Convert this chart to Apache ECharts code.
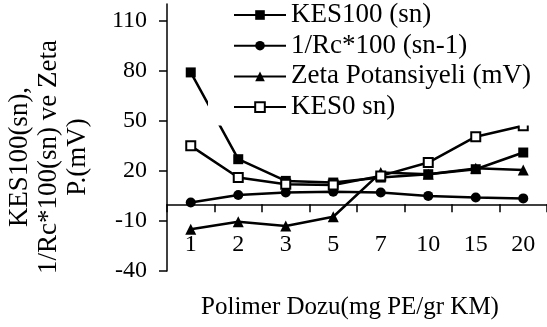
<!DOCTYPE html>
<html>
<head>
<meta charset="utf-8">
<script src="https://cdn.jsdelivr.net/npm/echarts@6/dist/echarts.min.js"></script>
<style>
html,body{margin:0;padding:0;background:#fff;}
#chart{width:547px;height:327px;}
</style>
</head>
<body>
<div id="chart"></div>
<script>
const categories = ['1', '2', '3', '5', '7', '10', '15', '20'];
const kes100 = [79, 27, 14, 13, 16, 18, 21, 31];
const rc100 = [1, 5.5, 7, 7.5, 7, 5, 4, 3.5];
const zeta = [-15, -10.5, -13, -7.5, 19, 18, 21.5, 20.5];
const kes0 = [35, 16, 12, 11.5, 17, 25, 40.5, 47];
const yTicks = [-40, -10, 20, 50, 80, 110];
const seriesNames = ['KES100 (sn)', '1/Rc*100 (sn-1)', 'Zeta Potansiyeli (mV)', 'KES0 sn)'];
const xTitle = 'Polimer Dozu(mg PE/gr KM)';
const yTitle = 'KES100(sn),\n1/Rc*100(sn) ve Zeta\nP.(mV)';

const FONT = '"Liberation Serif", "Times New Roman", serif';
const chart = echarts.init(document.getElementById('chart'), null, {renderer: 'canvas'});

function lineSeries(name, data, symbol, size, fill) {
  return {
    name: name,
    type: 'line',
    data: data,
    xAxisIndex: 0,
    symbol: symbol,
    symbolSize: size,
    showAllSymbol: true,
    lineStyle: {color: '#000', width: 2.5},
    itemStyle: {color: fill, borderColor: '#000', borderWidth: fill === '#fff' ? 2 : 0},
    emphasis: {disabled: true},
    animation: false
  };
}

chart.setOption({
  animation: false,
  backgroundColor: '#fff',
  grid: {left: 167, right: -1, top: 4, bottom: 56, containLabel: false},
  legend: {
    orient: 'vertical',
    left: 208,
    top: 0,
    padding: [1.5, 10, 5, 25],
    itemWidth: 52,
    itemHeight: 12,
    itemGap: 3.7,
    backgroundColor: '#fff',
    textStyle: {fontFamily: FONT, fontSize: 27, color: '#000', lineHeight: 27},
    data: seriesNames
  },
  xAxis: [
    {
      type: 'category',
      data: categories,
      boundaryGap: true,
      axisLine: {onZero: true, lineStyle: {color: '#000', width: 1.5}},
      axisTick: {show: true, interval: 0, length: 8, lineStyle: {color: '#000', width: 1.5}},
      axisLabel: {show: false},
      splitLine: {show: false}
    },
    {
      type: 'category',
      data: categories,
      position: 'bottom',
      boundaryGap: true,
      axisLine: {show: false, onZero: false},
      axisTick: {show: false},
      axisLabel: {interval: 0, margin: -38, fontFamily: FONT, fontSize: 24, color: '#000'},
      splitLine: {show: false}
    }
  ],
  yAxis: {
    type: 'value',
    min: -40,
    max: 120,
    axisLine: {show: true, lineStyle: {color: '#000', width: 1.5}},
    axisTick: {show: true, length: 8, customValues: yTicks, lineStyle: {color: '#000', width: 1.5}},
    axisLabel: {customValues: yTicks, margin: 20, fontFamily: FONT, fontSize: 24, color: '#000'},
    splitLine: {show: false}
  },
  graphic: [
    {
      type: 'text',
      x: 350, y: 307,
      style: {text: xTitle, font: '25px ' + FONT, fill: '#000', align: 'center', verticalAlign: 'middle'}
    },
    {
      type: 'text',
      x: 49, y: 157,
      rotation: Math.PI / 2,
      style: {text: yTitle, font: '27px ' + FONT, fill: '#000', align: 'center', verticalAlign: 'middle', lineHeight: 29}
    }
  ],
  series: [
    lineSeries(seriesNames[0], kes100, 'rect', 10, '#000'),
    lineSeries(seriesNames[1], rc100, 'circle', 10, '#000'),
    lineSeries(seriesNames[2], zeta, 'triangle', 11, '#000'),
    lineSeries(seriesNames[3], kes0, 'rect', 9, '#fff')
  ]
});
</script>
</body>
</html>
